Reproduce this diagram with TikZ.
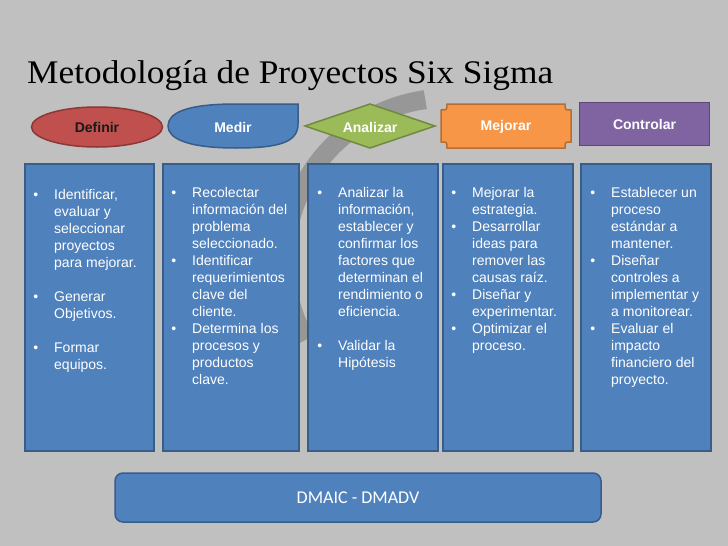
\documentclass[tikz,border=0pt]{standalone}
\usepackage{fontspec}
\setmainfont{Liberation Sans}
\newfontfamily\titlefont{Liberation Serif}
\newfontfamily\bannerfont{Carlito}
\usetikzlibrary{shapes.geometric}
\definecolor{slidegray}{HTML}{C0C0C0}
\definecolor{arcgray}{HTML}{979797}
\definecolor{boxblue}{HTML}{4F81BD}
\definecolor{boxedge}{HTML}{385D8A}
\definecolor{defred}{HTML}{C0504D}
\definecolor{defedge}{HTML}{8C3836}
\definecolor{anagreen}{HTML}{9BBB59}
\definecolor{anaedge}{HTML}{71893F}
\definecolor{mejorange}{HTML}{F79646}
\definecolor{mejedge}{HTML}{B66D31}
\definecolor{ctrlpurple}{HTML}{8064A2}
\definecolor{ctrledge}{HTML}{5C4776}
\newcommand{\bul}{\llap{\textbullet\hspace{16pt}}\rule{0pt}{11pt}}

\begin{document}
\begin{tikzpicture}[x=1pt, y=-1pt,
  phase/.style={font=\bfseries\fontsize{14}{16}\selectfont, text=white, inner sep=0pt, line width=1.5pt},
  column/.style={draw=boxedge, fill=boxblue, line width=1.5pt, minimum height=287pt,
                 anchor=north west, inner sep=0pt},
  items/.style={anchor=north west, inner sep=0pt, align=left, text=white,
                font=\fontsize{14}{17}\selectfont}]
  \useasboundingbox[fill=slidegray] (0,0) rectangle (728,546);
  \draw[arcgray, line width=19pt] plot[domain=151:262, samples=40]
      ({448+163*cos(\x)}, {261+163*sin(\x)});

  \node[anchor=base west, inner sep=0pt, font=\titlefont\fontsize{33}{36}\selectfont] (title)
      at (27,83) {\resizebox{526pt}{\height}{Metodología de Proyectos Six Sigma}};

  \node[phase, ellipse, draw=defedge, fill=defred, text=black!90, minimum width=131pt,
        minimum height=40pt] (definir) at (97,127) {Definir};
  \path[draw=boxedge, fill=boxblue, line width=1.5pt] (298,104) -- (298,124)
      .. controls (298,142) and (280,148) .. (236,148)
      .. controls (186,148) and (168,138) .. (168,126)
      .. controls (168,113) and (186,104) .. (236,104) -- cycle;
  \node[phase] (medir) at (233,127) {Medir};
  \path[draw=anaedge, fill=anagreen, line width=1.5pt]
      (305,126) -- (370,104) -- (435,126) -- (370,148) -- cycle;
  \node[phase] (analizar) at (370,127) {Analizar};
  \path[draw=mejedge, fill=mejorange, line width=1.5pt] (447,104) -- (565,104)
      .. controls (565,110) .. (571,110) -- (571,142)
      .. controls (565,142) .. (565,148) -- (447,148)
      .. controls (447,142) .. (441,142) -- (441,110)
      .. controls (447,110) .. (447,104) -- cycle;
  \node[phase] (mejorar) at (506,127) {Mejorar};
  \node[phase, draw=ctrledge, fill=ctrlpurple, minimum width=130pt,
        minimum height=43pt] (controlar) at (644.5,124) {Controlar};

  \node[column, minimum width=129pt] (col1) at (24,163) {};
  \node[column, minimum width=136pt] (col2) at (162,163) {};
  \node[column, minimum width=130pt] (col3) at (307,163) {};
  \node[column, minimum width=130pt] (col4) at (442,163) {};
  \node[column, minimum width=130pt] (col5) at (580,163) {};

  \node[items] (txt1) at (54,188) {\bul Identificar,\\ evaluar y\\ seleccionar\\ proyectos\\
      para mejorar.\\[17pt] \bul Generar\\ Objetivos.\\[17pt] \bul Formar\\ equipos.};
  \node[items] (txt2) at (192,186) {\bul Recolectar\\ información del\\ problema\\
      seleccionado.\\ \bul Identificar\\ requerimientos\\ clave del\\ cliente.\\
      \bul Determina los\\ procesos y\\ productos\\ clave.};
  \node[items] (txt3) at (338,186) {\bul Analizar la\\ información,\\ establecer y\\
      confirmar los\\ factores que\\ determinan el\\ rendimiento o\\ eficiencia.\\[17pt]
      \bul Validar la\\ Hipótesis};
  \node[items] (txt4) at (472,186) {\bul Mejorar la\\ estrategia.\\ \bul Desarrollar\\
      ideas para\\ remover las\\ causas raíz.\\ \bul Diseñar y\\ experimentar.\\
      \bul Optimizar el\\ proceso.};
  \node[items] (txt5) at (611,186) {\bul Establecer un\\ proceso\\ estándar a\\ mantener.\\
      \bul Diseñar\\ controles a\\ implementar y\\ a monitorear.\\ \bul Evaluar el\\
      impacto\\ financiero del\\ proyecto.};

  \node[draw=boxedge, fill=boxblue, line width=1.5pt, rounded corners=8pt, minimum width=486pt,
        minimum height=49pt, inner sep=0pt, text=white,
        font=\bannerfont\fontsize{18}{20}\selectfont] (dmaic) at (358,497.5) {DMAIC - DMADV};
\end{tikzpicture}
\end{document}
